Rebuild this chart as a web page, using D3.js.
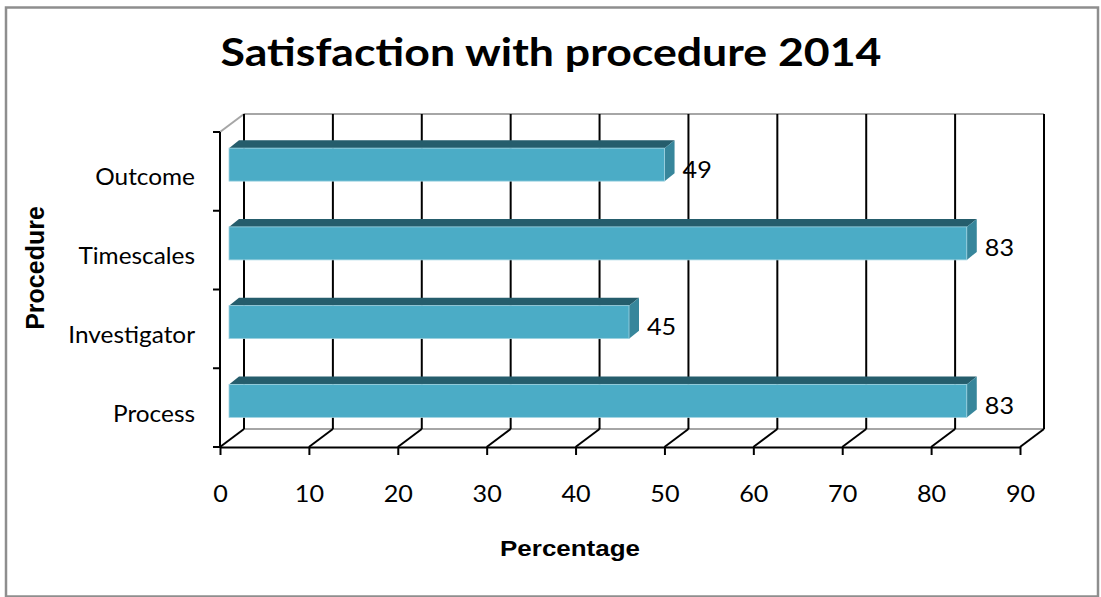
<!DOCTYPE html>
<html>
<head>
<meta charset="utf-8">
<script src="https://cdn.jsdelivr.net/npm/d3@7"></script>
<style>
  html, body { margin: 0; padding: 0; background: #fff; }
  svg { display: block; }
</style>
</head>
<body>
<svg id="chart" width="1101" height="597"></svg>
<script>
// Satisfaction survey, 2014 — share of respondents satisfied per procedure stage
const categories = ["Outcome", "Timescales", "Investigator", "Process"];
const values = [49, 83, 45, 83];
const xTicks = [0, 10, 20, 30, 40, 50, 60, 70, 80, 90];
const titleText = "Satisfaction with procedure 2014";
const xTitle = "Percentage";
const yTitle = "Procedure";

const svg = d3.select("#chart");

// 3D frame: front plane plus the depth offset to the back wall
const depth = { dx: 24, dy: -18 };
const barDepth = { dx: 10, dy: -8 };
const barInset = { dx: 9, dy: -6.75 };

const x = d3.scaleLinear().domain([0, 90]).range([220, 1020]);
const y = d3.scaleBand().domain(categories).range([132, 447]).paddingInner(0).paddingOuter(0);
const barH = 33;

const colors = {
  front: "#4bacc6",
  top: "#255d6c",
  side: "#37869b",
  grid: "#000",
  wall: "#a6a6a6",
  border: "#8e8e8e"
};

const bodyFont = "Lato, 'Open Sans', sans-serif";
const axisTitleFont = "'Liberation Sans', Arial, sans-serif";

// chart area border
svg.append("rect")
  .attr("x", 6).attr("y", 7.5).attr("width", 1092).attr("height", 589)
  .attr("fill", "#fff").attr("stroke", colors.border).attr("stroke-width", 2.5);

const yTop = y.range()[0], yBot = y.range()[1];

// back wall outline
svg.append("line")
  .attr("x1", x(0)).attr("y1", yTop).attr("x2", x(0) + depth.dx).attr("y2", yTop + depth.dy)
  .attr("stroke", colors.wall).attr("stroke-width", 2);
svg.append("line")
  .attr("x1", x(0) + depth.dx).attr("y1", yTop + depth.dy)
  .attr("x2", x(90) + depth.dx).attr("y2", yTop + depth.dy)
  .attr("stroke", colors.wall).attr("stroke-width", 2);
// floor back edge
svg.append("line")
  .attr("x1", x(0) + depth.dx).attr("y1", yBot + depth.dy)
  .attr("x2", x(90) + depth.dx).attr("y2", yBot + depth.dy)
  .attr("stroke", colors.wall).attr("stroke-width", 2);

// vertical gridlines on the back wall
svg.append("g").selectAll("line").data(xTicks).join("line")
  .attr("x1", d => x(d) + depth.dx).attr("x2", d => x(d) + depth.dx)
  .attr("y1", yTop + depth.dy).attr("y2", yBot + depth.dy)
  .attr("stroke", colors.grid).attr("stroke-width", 2);

// floor gridlines running front to back
svg.append("g").selectAll("line").data(xTicks).join("line")
  .attr("x1", d => x(d)).attr("y1", yBot)
  .attr("x2", d => x(d) + depth.dx).attr("y2", yBot + depth.dy)
  .attr("stroke", colors.grid).attr("stroke-width", 2);

// x axis along the front edge of the floor
const xAxis = d3.axisBottom(x).tickValues(xTicks).tickSize(8).tickSizeOuter(0);
const gx = svg.append("g").attr("transform", `translate(0,${yBot})`).call(xAxis);
gx.select(".domain").attr("stroke", "#000").attr("stroke-width", 2);
gx.selectAll(".tick line").attr("stroke", "#000").attr("stroke-width", 2);
gx.selectAll(".tick text").remove();
gx.selectAll(".tick").append("text")
  .attr("transform", "translate(0,55) scale(1.05,1)")
  .attr("text-anchor", "middle")
  .attr("font-family", bodyFont)
  .attr("font-size", 24)
  .attr("fill", "#000")
  .text(d => d);

// y axis along the front left edge
svg.append("line")
  .attr("x1", x(0)).attr("x2", x(0)).attr("y1", yTop).attr("y2", yBot)
  .attr("stroke", "#000").attr("stroke-width", 2);
const bounds = categories.map(c => y(c)).concat([yBot]);
svg.append("g").selectAll("line").data(bounds).join("line")
  .attr("x1", x(0) - 7).attr("x2", x(0)).attr("y1", d => d).attr("y2", d => d)
  .attr("stroke", "#000").attr("stroke-width", 2);

// category labels
svg.append("g").selectAll("text").data(categories).join("text")
  .attr("transform", c => `translate(195,${y(c) + y.bandwidth() / 2 + 14}) scale(1.06,1)`)
  .attr("text-anchor", "end")
  .attr("font-family", bodyFont)
  .attr("font-size", 23)
  .attr("fill", "#000")
  .text(c => c);

// bars (front face, top face, right side face)
const bars = categories.map((c, i) => {
  const cy = y(c) + y.bandwidth() / 2 + barInset.dy;
  return {
    cat: c, v: values[i],
    x0: x(0) + barInset.dx, x1: x(values[i]) + barInset.dx,
    top: cy - barH / 2, bot: cy + barH / 2, cy
  };
});

const gb = svg.append("g");
gb.selectAll("path.top").data(bars).join("path").attr("class", "top")
  .attr("d", b => `M${b.x0},${b.top}L${b.x0 + barDepth.dx},${b.top + barDepth.dy}L${b.x1 + barDepth.dx},${b.top + barDepth.dy}L${b.x1},${b.top}Z`)
  .attr("fill", colors.top);
gb.selectAll("path.side").data(bars).join("path").attr("class", "side")
  .attr("d", b => `M${b.x1},${b.top}L${b.x1 + barDepth.dx},${b.top + barDepth.dy}L${b.x1 + barDepth.dx},${b.bot + barDepth.dy}L${b.x1},${b.bot}Z`)
  .attr("fill", colors.side);
gb.selectAll("rect.front").data(bars).join("rect").attr("class", "front")
  .attr("x", b => b.x0).attr("y", b => b.top)
  .attr("width", b => b.x1 - b.x0).attr("height", barH)
  .attr("fill", colors.front)
  .attr("stroke", "#9fd3e1").attr("stroke-width", 0.8);

// value labels
svg.append("g").selectAll("text").data(bars).join("text")
  .attr("transform", b => `translate(${b.x1 + barDepth.dx + 8},${b.cy + 13}) scale(1.05,1)`)
  .attr("font-family", bodyFont)
  .attr("font-size", 24)
  .attr("fill", "#000")
  .text(b => b.v);

// title
svg.append("text")
  .attr("transform", "translate(551,66) scale(1.145,1)")
  .attr("text-anchor", "middle")
  .attr("font-family", bodyFont)
  .attr("font-weight", "bold")
  .attr("font-size", 39)
  .attr("fill", "#000")
  .text(titleText);

// axis titles
svg.append("text")
  .attr("transform", "translate(570,556) scale(1.18,1)")
  .attr("text-anchor", "middle")
  .attr("font-family", axisTitleFont)
  .attr("font-weight", "bold")
  .attr("font-size", 22)
  .attr("fill", "#000")
  .text(xTitle);

svg.append("text")
  .attr("transform", "translate(44,268) rotate(-90)")
  .attr("text-anchor", "middle")
  .attr("font-family", axisTitleFont)
  .attr("font-weight", "bold")
  .attr("font-size", 25)
  .attr("fill", "#000")
  .text(yTitle);
</script>
</body>
</html>
